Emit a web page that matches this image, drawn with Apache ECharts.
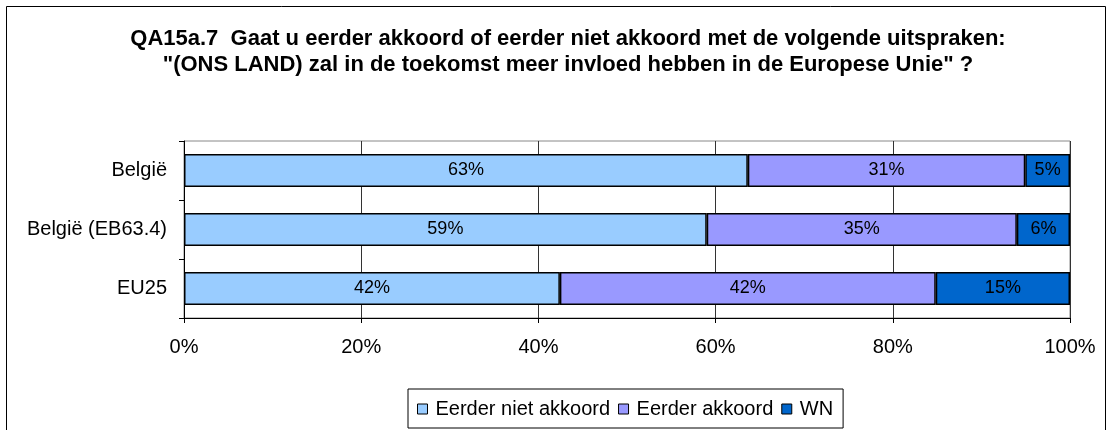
<!DOCTYPE html>
<html>
<head>
<meta charset="utf-8">
<script src="https://cdn.jsdelivr.net/npm/echarts@6/dist/echarts.min.js"></script>
<style>
  html, body { margin: 0; padding: 0; background: #fff; }
  #chart { width: 1114px; height: 430px; }
</style>
</head>
<body>
<div id="chart"></div>
<script>
// Survey answers per group (percent, as published)
const categories = ['België', 'België (EB63.4)', 'EU25'];
const eerderNietAkkoord = [63, 59, 42];
const eerderAkkoord = [31, 35, 42];
const weetNiet = [5, 6, 15];
const seriesNames = ['Eerder niet akkoord', 'Eerder akkoord', 'WN'];
const seriesColors = ['#99CCFF', '#9999FF', '#0066CC'];
const xTicks = [0, 20, 40, 60, 80, 100];

// 100% stacked: each row is scaled to its own total
const rows = [eerderNietAkkoord, eerderAkkoord, weetNiet];
const totals = categories.map((_, i) => rows.reduce((s, r) => s + r[i], 0));

const font = 'Liberation Sans, Arial, sans-serif';

const series = rows.map((vals, k) => ({
  name: seriesNames[k],
  type: 'bar',
  stack: 'total',
  barCategoryGap: '44%',
  data: vals.map((v, i) => ({ value: v / totals[i] * 100, raw: v })),
  itemStyle: { color: seriesColors[k], borderColor: '#000', borderWidth: 1.5 },
  label: {
    show: true,
    position: 'inside',
    color: '#000',
    fontFamily: font,
    fontSize: 18,
    formatter: p => p.data.raw + '%'
  },
  emphasis: { disabled: true }
}));

const chart = echarts.init(document.getElementById('chart'), null, { renderer: 'canvas' });
chart.setOption({
  animation: false,
  backgroundColor: '#fff',
  title: {
    text: 'QA15a.7  Gaat u eerder akkoord of eerder niet akkoord met de volgende uitspraken:\n"(ONS LAND) zal in de toekomst meer invloed hebben in de Europese Unie" ?',
    left: 568,
    top: 26,
    padding: 0,
    textAlign: 'center',
    textStyle: { fontFamily: font, fontSize: 22, fontWeight: 'bold', color: '#000', lineHeight: 26 }
  },
  graphic: [{
    type: 'rect',
    shape: { x: 6.5, y: 6.5, width: 1099, height: 440 },
    style: { fill: null, stroke: '#000', lineWidth: 1 },
    silent: true
  }],
  legend: {
    data: seriesNames,
    left: 408,
    top: 389,
    padding: [10, 10, 9, 9],
    itemWidth: 10,
    itemHeight: 10,
    itemGap: 8,
    icon: 'rect',
    borderColor: '#000',
    borderWidth: 1,
    itemStyle: { borderColor: '#000', borderWidth: 1 },
    textStyle: { fontFamily: font, fontSize: 20, color: '#000', padding: [0, 0, 0, 3] }
  },
  grid: {
    left: 184, right: 44, top: 141, bottom: 112,
    show: true, borderColor: '#888', borderWidth: 1
  },
  xAxis: {
    type: 'value',
    min: 0, max: 100, interval: 20,
    axisLine: { show: true, lineStyle: { color: '#000' } },
    axisTick: { show: true, length: 5, lineStyle: { color: '#000' } },
    splitLine: { show: true, lineStyle: { color: '#333', width: 1 } },
    axisLabel: {
      fontFamily: font, fontSize: 20, color: '#000', margin: 19,
      formatter: v => xTicks.includes(v) ? v + '%' : ''
    }
  },
  yAxis: {
    type: 'category',
    data: categories,
    inverse: true,
    axisLine: { show: true, lineStyle: { color: '#000' } },
    axisTick: { show: true, length: 5, lineStyle: { color: '#000' } },
    axisLabel: { fontFamily: font, fontSize: 20, color: '#000', margin: 17 }
  },
  series: series
});
</script>
</body>
</html>
